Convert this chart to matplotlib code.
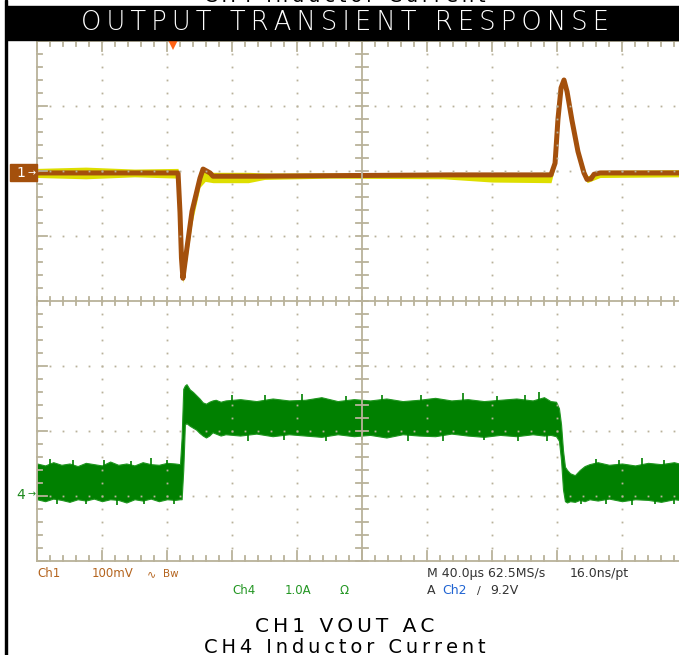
import numpy as np
import matplotlib
matplotlib.use('Agg')
import matplotlib.pyplot as plt
from matplotlib.patches import Rectangle

# time in us from the left edge of the graticule (40 us/div)
# ch1: VOUT AC, mV (100 mV/div, marker at +2 div)
ch1_t = [0, 86.8, 88.0, 88.9, 89.8, 92.3, 95.4, 100.3, 102.2, 106.5, 108.3,
         137.2, 192.6, 254.2, 316.3, 318.8, 320.6, 322.5, 324.3, 326.2,
         329.2, 332.9, 336.6, 338.5, 340.9, 342.8, 346.5, 395.1]
ch1_mv = [-3, -3, -64, -134, -165, -118, -62, -11, 3, -3, -8,
          -8, -7, -6, -6, 12, 80, 128, 140, 122,
          78, 30, -3, -13, -12, -5, -3, -3]
# yellow persistence band around ch1
ch1y_t = [0, 30, 60, 86.8, 88.0, 89.8, 92.3, 95.4, 100.3, 103.5, 108.3, 130, 140,
          180, 250, 280, 316.3, 318.8, 322.5, 324.3, 326.2, 332.9, 338.5, 346.5, 395.1]
ch1y_hi = [4, 6, 3, 4, -50, -150, -100, -45, 2, 3, -2, -2, -3,
           -3, -3, -3, -2, 16, 132, 142, 126, 34, -8, 1, 2]
ch1y_lo = [-10, -12, -9, -11, -70, -172, -135, -80, -25, -16, -18, -18, -13,
           -11, -12, -17, -18, 6, 120, 136, 116, 22, -18, -10, -9]

# ch4: inductor current, A (1.0 A/div, marker at -3 div)
ch4_t = [0, 5, 10, 15, 20, 25, 30, 35, 40, 45, 50, 55, 60, 65, 70, 75, 80, 85, 88,
         89, 90, 91, 92, 94, 96, 98, 100, 102, 104, 106, 108, 110, 113, 116,
         125, 135, 145, 155, 165, 175, 185, 195, 205, 215, 225, 235, 245, 255,
         265, 275, 285, 295, 305, 312, 316, 319.4, 321.2, 322.5, 323.7, 324.9,
         326.2, 328, 331, 334, 337, 340, 345, 352, 360, 368, 376, 384, 392, 395.1]
ch4_hi = [0.50, 0.47, 0.52, 0.48, 0.50, 0.46, 0.51, 0.49, 0.47, 0.53, 0.48, 0.50, 0.47, 0.52, 0.49, 0.48, 0.51, 0.50, 0.49,
          0.90, 1.65, 1.70, 1.72, 1.64, 1.60, 1.55, 1.50, 1.44, 1.42, 1.45, 1.47, 1.48, 1.45, 1.47,
          1.49, 1.46, 1.50, 1.47, 1.48, 1.52, 1.46, 1.49, 1.47, 1.50, 1.46, 1.48, 1.51, 1.47,
          1.49, 1.46, 1.48, 1.50, 1.47, 1.52, 1.46, 1.45, 1.35, 1.10, 0.70, 0.45,
          0.40, 0.35, 0.32, 0.40, 0.46, 0.49, 0.52, 0.48, 0.50, 0.47, 0.51, 0.49, 0.52, 0.50]
ch4_lo = [-0.05, -0.08, -0.04, -0.06, -0.09, -0.05, -0.07, -0.04, -0.08, -0.05, -0.06, -0.10, -0.05, -0.07, -0.04, -0.08, -0.05, -0.06, -0.05,
          -0.05, 0.40, 1.10, 1.12, 1.08, 1.05, 1.02, 0.97, 0.93, 0.90, 0.93, 0.98, 0.96, 0.93, 0.95,
          0.93, 0.96, 0.92, 0.95, 0.93, 0.91, 0.95, 0.92, 0.94, 0.90, 0.95, 0.93, 0.92, 0.96,
          0.93, 0.91, 0.94, 0.92, 0.95, 0.93, 0.94, 0.92, 0.85, 0.55, 0.10, -0.08,
          -0.10, -0.08, -0.09, -0.06, -0.08, -0.05, -0.07, -0.04, -0.08, -0.05, -0.06, -0.09, -0.05, -0.06]
# ripple spikes sticking out of the ch4 band (time us, tip A)
spk_hi_t = [8, 22, 41, 58, 70, 80, 120, 140, 163, 190, 212, 236, 262, 283, 300, 309, 344, 358, 372, 386]
spk_hi_a = [0.57, 0.55, 0.56, 0.54, 0.58, 0.55, 1.56, 1.55, 1.57, 1.54, 1.56, 1.55, 1.58, 1.54, 1.55, 1.60, 0.57, 0.56, 0.58, 0.56]
spk_lo_t = [12, 30, 49, 66, 84, 130, 152, 178, 200, 228, 250, 275, 296, 314, 335, 350, 366, 380, 392]
spk_lo_a = [-0.13, -0.12, -0.14, -0.12, -0.13, 0.85, 0.86, 0.84, 0.86, 0.85, 0.84, 0.86, 0.85, 0.84, -0.13, -0.12, -0.14, -0.12, -0.13]

CH1_POS, CH1_SCALE = 2.0, 100.0
CH4_POS, CH4_SCALE = -3.0, 1.0
TRIG_T = 83.7

W, H = 679, 655
def fx(x):
    return x / W
def fy(y):
    return 1 - y / H

fig = plt.figure(figsize=(W / 100, H / 100), dpi=100)
fig.patch.set_facecolor('white')

XMAX = (W - 37) * 40 / 65
ax = fig.add_axes([fx(37), fy(561), 1 - fx(37), (561 - 41) / H])
ax.set_xlim(0, XMAX)
ax.set_ylim(-4, 4)
ax.axis('off')

px = 40 / 65   # us per pixel
py = 1 / 65    # div per pixel
gc = '#b9b29a'

# traces
t4 = np.array(ch4_t)
ax.fill_between(t4, CH4_POS + np.array(ch4_lo) / CH4_SCALE, CH4_POS + np.array(ch4_hi) / CH4_SCALE,
                color='#008000', lw=0.8, edgecolor='#1f961f', zorder=3)
sh = CH4_POS + np.array(spk_hi_a) / CH4_SCALE
sl = CH4_POS + np.array(spk_lo_a) / CH4_SCALE
ax.vlines(spk_hi_t, sh - 0.15, sh, color='#008000', lw=1.2, zorder=3)
ax.vlines(spk_lo_t, sl, sl + 0.15, color='#008000', lw=1.2, zorder=3)

ty = np.array(ch1y_t)
ax.fill_between(ty, CH1_POS + np.array(ch1y_lo) / CH1_SCALE, CH1_POS + np.array(ch1y_hi) / CH1_SCALE,
                color='#dede00', lw=0, zorder=3)
ax.plot(ch1_t, CH1_POS + np.array(ch1_mv) / CH1_SCALE, color='#a4500c', lw=3.6,
        solid_joinstyle='round', zorder=4)

# graticule
lk = dict(color=gc, lw=1.3, clip_on=False, zorder=5)
ax.plot([0, 0], [-4, 4], **lk)
ax.plot([0, XMAX], [4, 4], **lk)
ax.plot([0, XMAX], [-4, -4], **lk)
ax.plot([0, XMAX], [0, 0], **lk)
ax.plot([200, 200], [-4, 4], **lk)

xm = np.arange(0, XMAX + 0.1, 8)
ym = np.arange(-4, 4.01, 0.2)
for x in xm:
    major = abs(x / 40 - round(x / 40)) < 1e-6
    ln = 10 if major else 5
    ax.plot([x, x], [4, 4 - ln * py], **lk)
    ax.plot([x, x], [-4, -4 + ln * py], **lk)
    ax.plot([x, x], [-4 * py, 4 * py], **lk)
for y in ym:
    major = abs(y - round(y)) < 1e-6
    ln = 10 if major else 5
    ax.plot([0, ln * px], [y, y], **lk)
    ax.plot([200 - 6 * px, 200 + 6 * px], [y, y], **lk)

dx, dy = [], []
for k in range(1, 10):
    if k == 5:
        continue
    for y in ym:
        dx.append(40 * k)
        dy.append(y)
for j in [-3, -2, -1, 1, 2, 3]:
    for x in xm:
        dx.append(x)
        dy.append(j)
ax.plot(dx, dy, ls='none', marker='s', ms=1.3, mew=0, color=gc, zorder=5)

# trigger position marker
ax.plot([TRIG_T], [4 - 3 * py], marker='v', ms=8, color='#ff6418', mew=0, clip_on=False, zorder=6)

# left frame line and title bar
fig.patches.append(Rectangle((fx(4.5), 0), fx(2.5), 1, transform=fig.transFigure,
                             color='black', zorder=0))
fig.patches.append(Rectangle((fx(7), fy(39.5)), 1 - fx(7), (39.5 - 6) / H, transform=fig.transFigure,
                             color='black', zorder=0))

def spaced(s, sep='\u2009'):
    return sep.join(s)

fig.text(fx(345), fy(23), spaced('OUTPUT TRANSIENT RESPONSE'), color='white', fontsize=18.5,
         ha='center', va='center', family=['DejaVu Sans'], fontweight='light')
fig.text(fx(345), fy(2.5), spaced('CH4 Inductor Current'), color='black', fontsize=14,
         ha='center', va='baseline', family=['DejaVu Sans'])
fig.text(fx(345), fy(632), spaced('CH1 VOUT AC'), color='black', fontsize=14.5,
         ha='center', va='baseline', family=['DejaVu Sans'])
fig.text(fx(345), fy(653), spaced('CH4 Inductor Current'), color='black', fontsize=14,
         ha='center', va='baseline', family=['DejaVu Sans'])

# channel markers
fig.patches.append(Rectangle((fx(10), fy(181)), fx(27), (181 - 164) / H, transform=fig.transFigure,
                             color='#a4500c', zorder=2))
fig.text(fx(21), fy(173), '1', color='white', fontsize=10, ha='center', va='center')
fig.text(fx(32), fy(173), '\u2192', color='white', fontsize=7, ha='center', va='center')
fig.text(fx(21), fy(495), '4', color='#1f8a1f', fontsize=10, ha='center', va='center')
fig.text(fx(32), fy(494), '\u2192', color='#1f8a1f', fontsize=7, ha='center', va='center')

# readouts
nf = ['Liberation Sans Narrow', 'DejaVu Sans']
c1 = '#b4641e'
c4 = '#239623'
ck = '#333333'
r1, r2 = fy(577), fy(594)
fig.text(fx(37), r1, 'Ch1', color=c1, fontsize=8.5, family=nf, va='baseline')
fig.text(fx(92), r1, '100mV', color=c1, fontsize=8.5, family=nf, va='baseline')
fig.text(fx(147), r1, '\u223f', color=c1, fontsize=8, family=['DejaVu Sans'], va='baseline')
fig.text(fx(163), r1, 'Bw', color=c1, fontsize=7.5, family=nf, va='baseline')
fig.text(fx(427), r1, 'M 40.0\u00b5s 62.5MS/s', color=ck, fontsize=9, family=nf, va='baseline')
fig.text(fx(570), r1, '16.0ns/pt', color=ck, fontsize=9, family=nf, va='baseline')
fig.text(fx(232), r2, 'Ch4', color=c4, fontsize=8.5, family=nf, va='baseline')
fig.text(fx(285), r2, '1.0A', color=c4, fontsize=8.5, family=nf, va='baseline')
fig.text(fx(340), r2, '\u03a9', color=c4, fontsize=8.5, family=nf, va='baseline')
fig.text(fx(427), r2, 'A', color=ck, fontsize=9, family=nf, va='baseline')
fig.text(fx(442), r2, 'Ch2', color='#2064d2', fontsize=9, family=nf, va='baseline')
fig.text(fx(477), r2, '/', color=ck, fontsize=8, family=nf, va='baseline')
fig.text(fx(490), r2, '9.2V', color=ck, fontsize=9, family=nf, va='baseline')

fig.savefig('out.png', dpi=100)
